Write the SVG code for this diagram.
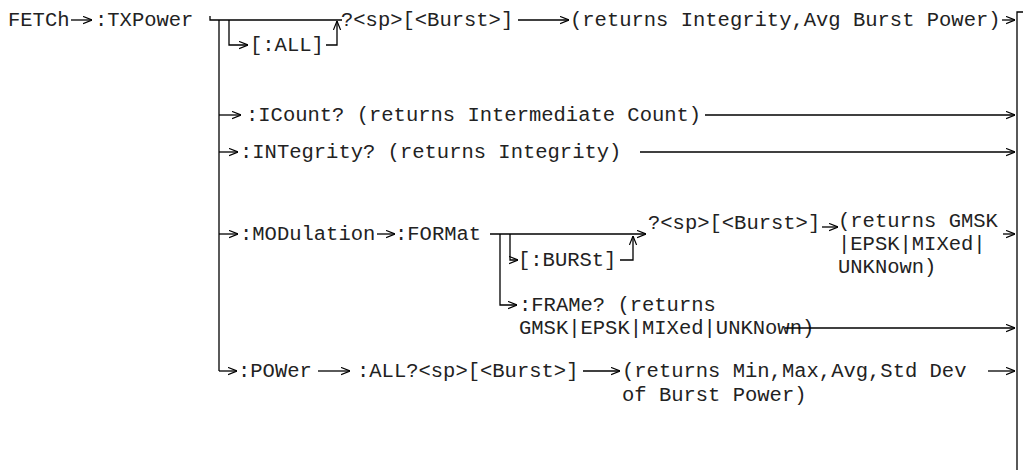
<svg xmlns="http://www.w3.org/2000/svg" width="1026" height="476" viewBox="0 0 1026 476">
<style>
text{font-family:"Liberation Mono","Courier New",monospace;font-size:20.5px;fill:#222}
.c{fill:none;stroke:#000;stroke-width:1.3}
.a{marker-end:url(#ah)}
</style>
<defs>
<marker id="ah" viewBox="0 0 10 10" refX="10" refY="5" markerWidth="9" markerHeight="9" markerUnits="userSpaceOnUse" orient="auto"><path d="M0,1 L10,5 L0,9" fill="none" stroke="#000" stroke-width="1.3"/></marker>
</defs>
<rect width="1026" height="476" fill="#fff"/>
<g id="n-fetch"><text x="8" y="26">FETCh</text></g>
<g id="n-txpower"><text x="95" y="26">:TXPower</text></g>
<g id="n-all"><text x="250" y="51">[:ALL]</text></g>
<g id="n-query1"><text x="341" y="26">?&lt;sp&gt;[&lt;Burst&gt;]</text></g>
<g id="n-ret1"><text x="570" y="26">(returns Integrity,Avg Burst Power)</text></g>
<g id="n-icount"><text x="246" y="121">:ICount? (returns Intermediate Count)</text></g>
<g id="n-integrity"><text x="240" y="158">:INTegrity? (returns Integrity)</text></g>
<g id="n-modulation"><text x="240" y="240">:MODulation</text></g>
<g id="n-format"><text x="395" y="240">:FORMat</text></g>
<g id="n-burst"><text x="518" y="266">[:BURSt]</text></g>
<g id="n-query2"><text x="648" y="229">?&lt;sp&gt;[&lt;Burst&gt;]</text></g>
<g id="n-ret2"><text x="838" y="227">(returns GMSK</text><text x="838" y="250">|EPSK|MIXed|</text><text x="838" y="273">UNKNown)</text></g>
<g id="n-frame"><text x="519" y="311">:FRAMe? (returns</text><text x="519" y="334">GMSK|EPSK|MIXed|UNKNown)</text></g>
<g id="n-power"><text x="238" y="377">:POWer</text></g>
<g id="n-allq"><text x="357" y="377">:ALL?&lt;sp&gt;[&lt;Burst&gt;]</text></g>
<g id="n-ret3"><text x="622" y="377">(returns Min,Max,Avg,Std Dev</text><text x="622" y="401">of Burst Power)</text></g>
<g id="connectors">
<path class="c a" d="M71,20 H92"/>
<path class="c" d="M210,16 V20 H342"/>
<path class="c" d="M219,20 V371"/>
<path class="c a" d="M229,20 V45 H248"/>
<path class="c a" d="M326,45 H337 V21"/>
<path class="c a" d="M518,20 H569"/>
<path class="c a" d="M1002,20 H1015"/>
<path class="c a" d="M219,115 H241"/>
<path class="c a" d="M705,115 H1015"/>
<path class="c a" d="M219,152 H238"/>
<path class="c a" d="M640,152 H1015"/>
<path class="c a" d="M219,234 H238"/>
<path class="c a" d="M377,234 H395"/>
<path class="c a" d="M490,234 H646"/>
<path class="c a" d="M500,234 V305 H517"/>
<path class="c a" d="M510,234 V260 H518"/>
<path class="c a" d="M620,260 H633 V236"/>
<path class="c a" d="M822,227 H838"/>
<path class="c a" d="M1003,234 H1015"/>
<path class="c a" d="M785,328 H1015"/>
<path class="c a" d="M219,371 H237"/>
<path class="c a" d="M318,371 H350"/>
<path class="c a" d="M583,371 H620"/>
<path class="c a" d="M988,371 H1015"/>
<path class="c" d="M1023,12 H1017 V470"/>
</g>
</svg>
